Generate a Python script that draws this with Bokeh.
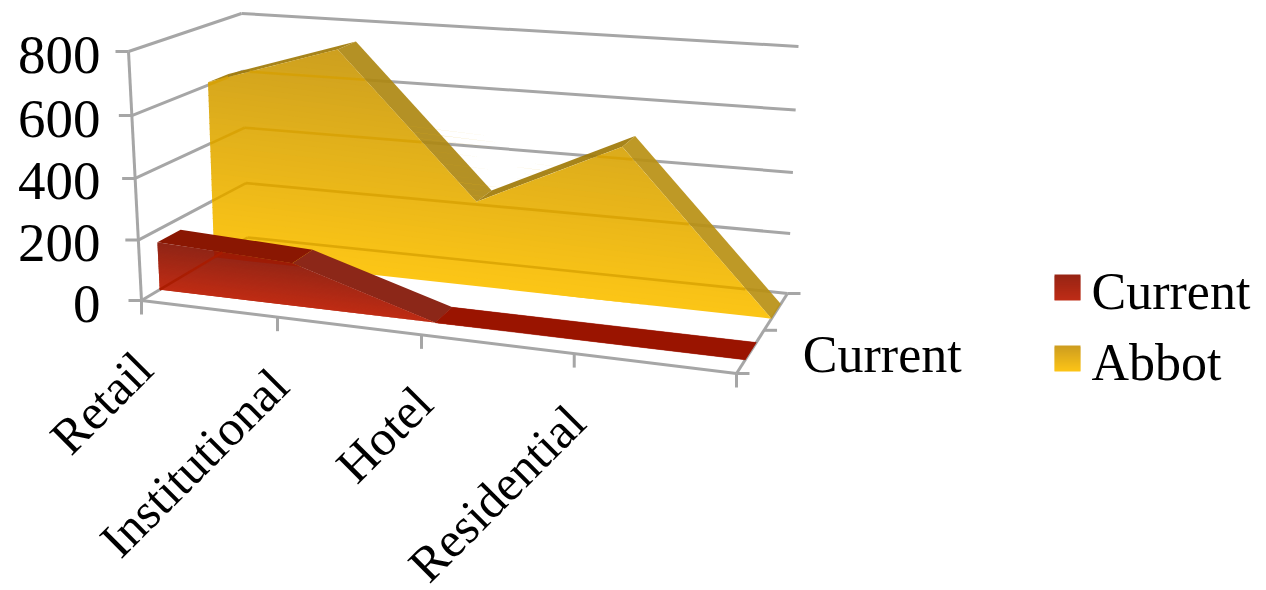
from bokeh.plotting import figure
from bokeh.embed import file_html
from bokeh.resources import INLINE
from bokeh.core.properties import value
from bokeh.models import Range1d
import numpy as np

categories = ["Retail", "Institutional", "Hotel", "Residential", ""]
series_names = ["Current", "Abbot"]
current_values = [160, 140, 0, 0, 0]
abbot_values = [610, 750, 285, 505, 0]
value_ticks = [0, 200, 400, 600, 800]
depth_label = "Current"

# projection: corners of the plot box in page pixels
FL0, FR0, BL0, BR0 = (141, 300), (736, 373), (247, 237), (787, 293)
FL1, FR1, BL1, BR1 = (128, 51), (742, 98), (241, 13), (798, 46)
ZMAX = 800.0
FONT = value("Liberation Serif")
GRID = "#a6a6a6"


def warp(t, k):
    return t / (1 + k * (1 - t))


def lerp(a, b, t):
    return (a[0] + (b[0] - a[0]) * t, a[1] + (b[1] - a[1]) * t)


def project(i, d, z):
    s = warp(i / (len(categories) - 1), 0.125)
    r = d * 1.174 / (1 + 0.174 * d)
    t = warp(z / ZMAX, 0.04)
    bottom = lerp(lerp(FL0, FR0, s), lerp(BL0, BR0, s), r)
    top = lerp(lerp(FL1, FR1, s), lerp(BL1, BR1, s), r)
    return lerp(bottom, top, t)


def clip_half(poly, f):
    out = []
    n = len(poly)
    for j in range(n):
        a, b = poly[j], poly[(j + 1) % n]
        fa, fb = f(a), f(b)
        if fa >= 0:
            out.append(a)
        if (fa >= 0) != (fb >= 0):
            out.append(lerp(a, b, fa / (fa - fb)))
    return out


def hexmix(c0, c1, t):
    a = [int(c0[i:i + 2], 16) for i in (1, 3, 5)]
    b = [int(c1[i:i + 2], 16) for i in (1, 3, 5)]
    return "#%02x%02x%02x" % tuple(int(round(a[i] + (b[i] - a[i]) * t)) for i in range(3))


def inside(pt, poly):
    x, y = pt
    c = False
    n = len(poly)
    for j in range(n):
        (x0, y0), (x1, y1) = poly[j], poly[(j + 1) % n]
        if (y0 > y) != (y1 > y) and x < x0 + (y - y0) * (x1 - x0) / (y1 - y0):
            c = not c
    return c


p = figure(width=1266, height=590, output_backend="svg", toolbar_location=None,
           x_range=Range1d(0, 1266), y_range=Range1d(590, 0), min_border=0,
           outline_line_color=None)
p.axis.visible = False
p.grid.visible = False


def gradient(poly, c_top, c_bot, slope=0.0, n=40):
    vs = [q[1] - slope * q[0] for q in poly]
    v0, v1 = min(vs), max(vs)
    xs, ys, cols = [], [], []
    for k in range(n):
        a = v0 + (v1 - v0) * k / n
        b = v0 + (v1 - v0) * (k + 1) / n + 1.0
        piece = clip_half(poly, lambda q: (q[1] - slope * q[0]) - a)
        piece = clip_half(piece, lambda q: b - (q[1] - slope * q[0])) if piece else piece
        if len(piece) >= 3:
            xs.append([q[0] for q in piece])
            ys.append([q[1] for q in piece])
            cols.append(hexmix(c_top, c_bot, (k + 0.5) / n))
    p.patches(xs, ys, fill_color=cols, line_color=None)


def line(a, b, color=GRID, width=3.0):
    p.line([a[0], b[0]], [a[1], b[1]], line_color=color, line_width=width)


def line_in(segments, poly, color, width=2.6, alpha=1.0):
    xs, ys = [], []
    for a, b in segments:
        run = []
        for t in np.linspace(0, 1, 500):
            q = lerp(a, b, float(t))
            if inside(q, poly):
                run.append(q)
            elif run:
                xs.append([run[0][0], run[-1][0]])
                ys.append([run[0][1], run[-1][1]])
                run = []
        if run:
            xs.append([run[0][0], run[-1][0]])
            ys.append([run[0][1], run[-1][1]])
    p.multi_line(xs, ys, line_color=color, line_width=width, line_alpha=alpha)


last = len(categories) - 1
wall_left = [(project(0, 0, z), project(0, 1, z)) for z in value_ticks]
wall_back = [(project(0, 1, z), project(last, 1, z)) for z in value_ticks]

# walls and floor
for a, b in wall_left + wall_back:
    line(a, b)
line(project(0, 0, 0), project(last, 0, 0))
line(project(last, 0, 0), project(last, 1, 0))
line(project(0, 0, 0), project(0, 0, ZMAX))

# ticks
for z in value_ticks:
    a = project(0, 0, z)
    line(a, (a[0] - 13, a[1]))
for i in range(len(categories)):
    a = project(i, 0, 0)
    line(a, (a[0], a[1] + 14))
for d in (0, 0.5, 1):
    a = project(last, d, 0)
    line(a, (a[0] + 13, a[1]))


def strip(vals, d0, d1, colors, alpha):
    for i in range(len(vals) - 1):
        q = [project(i, d0, vals[i]), project(i + 1, d0, vals[i + 1]),
             project(i + 1, d1, vals[i + 1]), project(i, d1, vals[i])]
        p.patch([c[0] for c in q], [c[1] for c in q], fill_color=colors[i],
                fill_alpha=alpha, line_color=None)


def face(vals, d):
    top = [project(i, d, v) for i, v in enumerate(vals)]
    return top + [project(last, d, 0), project(0, d, 0)]


# Abbot
A0, A1 = 0.65, 0.85
strip(abbot_values, A0, A1, ["#a07a08", "#ae8812", "#a07a08", "#b89014"], 0.92)
abbot_face = face(abbot_values, A0)
slope = (FR0[1] - FL0[1]) / (FR0[0] - FL0[0])
gradient(abbot_face, "#cda01f", "#fdc616", slope)
line_in(wall_left + wall_back, abbot_face, "#d69f00", 2.6, 0.75)

# Current
C0, C1 = 0.15, 0.35
strip(current_values, C0, C1, ["#8a1702", "#8c2718", "#9a1400", "#9a1400"], 1.0)
# flat part is one surface: cover the joint between its two segments
flat = [project(2, C0, 0), project(last, C0, 0), project(last, C1, 0), project(2, C1, 0)]
p.patch([q[0] for q in flat], [q[1] for q in flat], fill_color="#9a1400", line_color="#9a1400", line_width=0.5)
red_face = face(current_values, C0)
gradient(red_face, "#8f2516", "#c02c14", slope)
a_l, a_r = project(0, A0, 0), project(last, A0, 0)
over = clip_half(red_face, lambda q: (a_l[1] + (q[0] - a_l[0]) * (a_r[1] - a_l[1]) / (a_r[0] - a_l[0])) - q[1])
over = clip_half(over, lambda q: q[0] - a_l[0])
p.patch([q[0] for q in over], [q[1] for q in over], fill_color="#a01800", fill_alpha=0.75, line_color=None)
line_in([wall_left[0]], red_face, "#a81c00", 2.4, 0.9)

# texts
TS = "52px"
for z in value_ticks:
    a = project(0, 0, z)
    p.text([100], [a[1] + 3], text=[str(z)], text_font=FONT, text_font_size="55px",
           text_align="right", text_baseline="middle", text_color="#000000")
for i, c in enumerate(categories):
    if c:
        a = project(i, 0, 0)
        p.text([a[0] + 2], [a[1] + 60], text=[c], angle=np.pi / 4, text_font=FONT,
               text_font_size="50px", text_align="right", text_baseline="middle",
               text_color="#000000")
a = project(last, 0.25, 0)
p.text([a[0] + 52], [a[1] + 4], text=[depth_label], text_font=FONT, text_font_size=TS,
       text_align="left", text_baseline="middle", text_color="#000000")

# legend
LEG = [(series_names[0], 274, "#962414", "#bf2c16"), (series_names[1], 345, "#cc9c20", "#fdc516")]
for name, y, c0, c1 in LEG:
    gradient([(1054, y), (1080, y), (1080, y + 26), (1054, y + 26)], c0, c1, 0.0, 13)
    p.text([1091], [y + 17], text=[name], text_font=FONT, text_font_size=TS,
           text_align="left", text_baseline="middle", text_color="#000000")

open("out.html", "w").write(file_html(p, INLINE))
